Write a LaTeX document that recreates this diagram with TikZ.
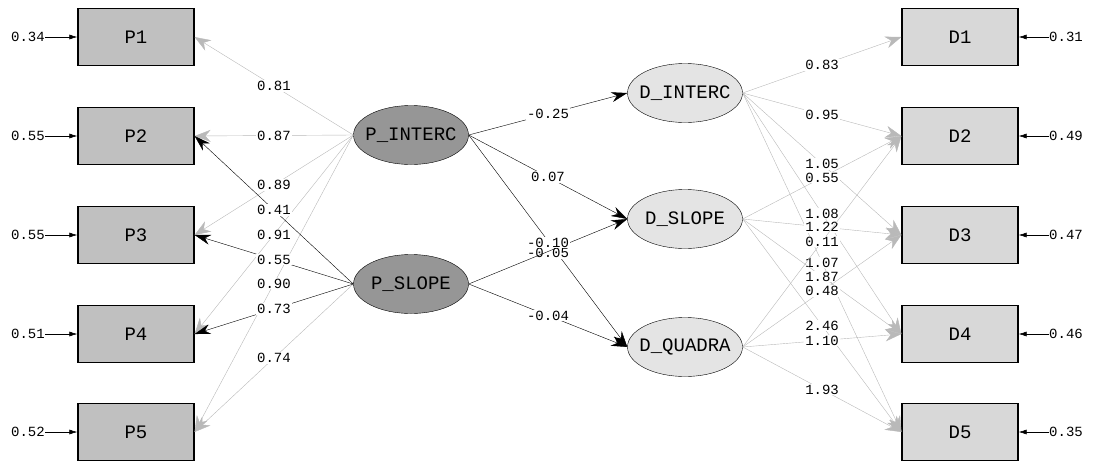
\documentclass[tikz,border=0pt]{standalone}
\usepackage{fontspec}
\setmonofont{Liberation Mono}
\usetikzlibrary{arrows.meta,shapes.geometric}

\definecolor{pfill}{RGB}{192,192,192}
\definecolor{dfill}{RGB}{216,216,216}
\definecolor{pell}{RGB}{150,150,150}
\definecolor{dell}{RGB}{228,228,228}
\definecolor{fixgray}{RGB}{185,185,185}

\begin{document}
\begin{tikzpicture}[x=1pt,y=-1pt,
    pbox/.style={draw, line width=1.2pt, fill=pfill, minimum width=116pt, minimum height=57pt, inner sep=0pt, font=\fontsize{19}{21}\ttfamily},
    dbox/.style={pbox, fill=dfill},
    plat/.style={ellipse, draw, thin, fill=pell, minimum width=115pt, minimum height=59pt, inner xsep=-6pt, inner ysep=0pt, font=\fontsize{19}{21}\ttfamily},
    dlat/.style={plat, fill=dell},
    coef/.style={fill=white, inner sep=1pt, font=\fontsize{14}{16}\ttfamily},
    errlbl/.style={inner sep=0pt, font=\fontsize{14}{16}\ttfamily},
    graypath/.style={draw=fixgray, thin, -{Stealth[length=16pt,width=12pt]}},
    blackpath/.style={draw=black, thin, -{Stealth[length=16pt,width=10pt]}},
    resid/.style={line width=0.6pt, -{Latex[length=8pt,width=5pt]}}]
\useasboundingbox (0,0) rectangle (1094,461);

\foreach \n/\y/\ep/\ed in {1/37/0.34/0.31, 2/136/0.55/0.49, 3/235/0.55/0.47, 4/334/0.51/0.46, 5/432/0.52/0.35} {
    \node[pbox] (P\n) at (136,\y) {P\n};
    \node[dbox] (D\n) at (960,\y) {D\n};
    \node[errlbl] (eP\n) at (28,\y) {\ep};
    \node[errlbl] (eD\n) at (1066,\y) {\ed};
    \draw[resid] (eP\n) -- (P\n);
    \draw[resid] (eD\n) -- (D\n);
}

\node[plat] (PI) at (411,135) {P\_INTERC};
\node[plat] (PS) at (411,284) {P\_SLOPE};
\node[dlat] (DI) at (685,93) {D\_INTERC};
\node[dlat] (DS) at (685,219) {D\_SLOPE};
\node[dlat] (DQ) at (685,347) {D\_QUADRA};

% loadings of the P side
\foreach \b/\v in {P1/0.81, P2/0.87, P3/0.89, P4/0.91, P5/0.90}
    \draw[graypath] (PI.west) -- node[coef] {\v} (\b.east);
\draw[graypath] (PS.west) -- node[coef] {0.74} (P5.east);
\foreach \b/\v in {P2/0.41, P3/0.55, P4/0.73}
    \draw[blackpath] (PS.west) -- node[coef] {\v} (\b.east);

% structural paths
\draw[blackpath] (PI.east) -- node[coef] {-0.25} (DI.west);
\draw[blackpath] (PI.east) -- node[coef] {0.07} (DS.west);
\draw[blackpath] (PI.east) -- node[coef, yshift=-12pt] {-0.05} (DQ.west);
\draw[blackpath] (PS.east) -- node[coef, yshift=9pt] {-0.10} (DS.west);
\draw[blackpath] (PS.east) -- node[coef] {-0.04} (DQ.west);

% loadings of the D side
\foreach \a/\b/\v in {DI/D1/0.83, DI/D2/0.95, DI/D3/1.05, DI/D4/1.08, DI/D5/1.07,
                      DS/D2/0.55, DS/D3/1.22, DS/D4/1.87, DS/D5/2.46,
                      DQ/D2/0.11, DQ/D3/0.48, DQ/D4/1.10, DQ/D5/1.93}
    \draw[graypath] (\a.east) -- node[coef] {\v} (\b.west);
\end{tikzpicture}
\end{document}
